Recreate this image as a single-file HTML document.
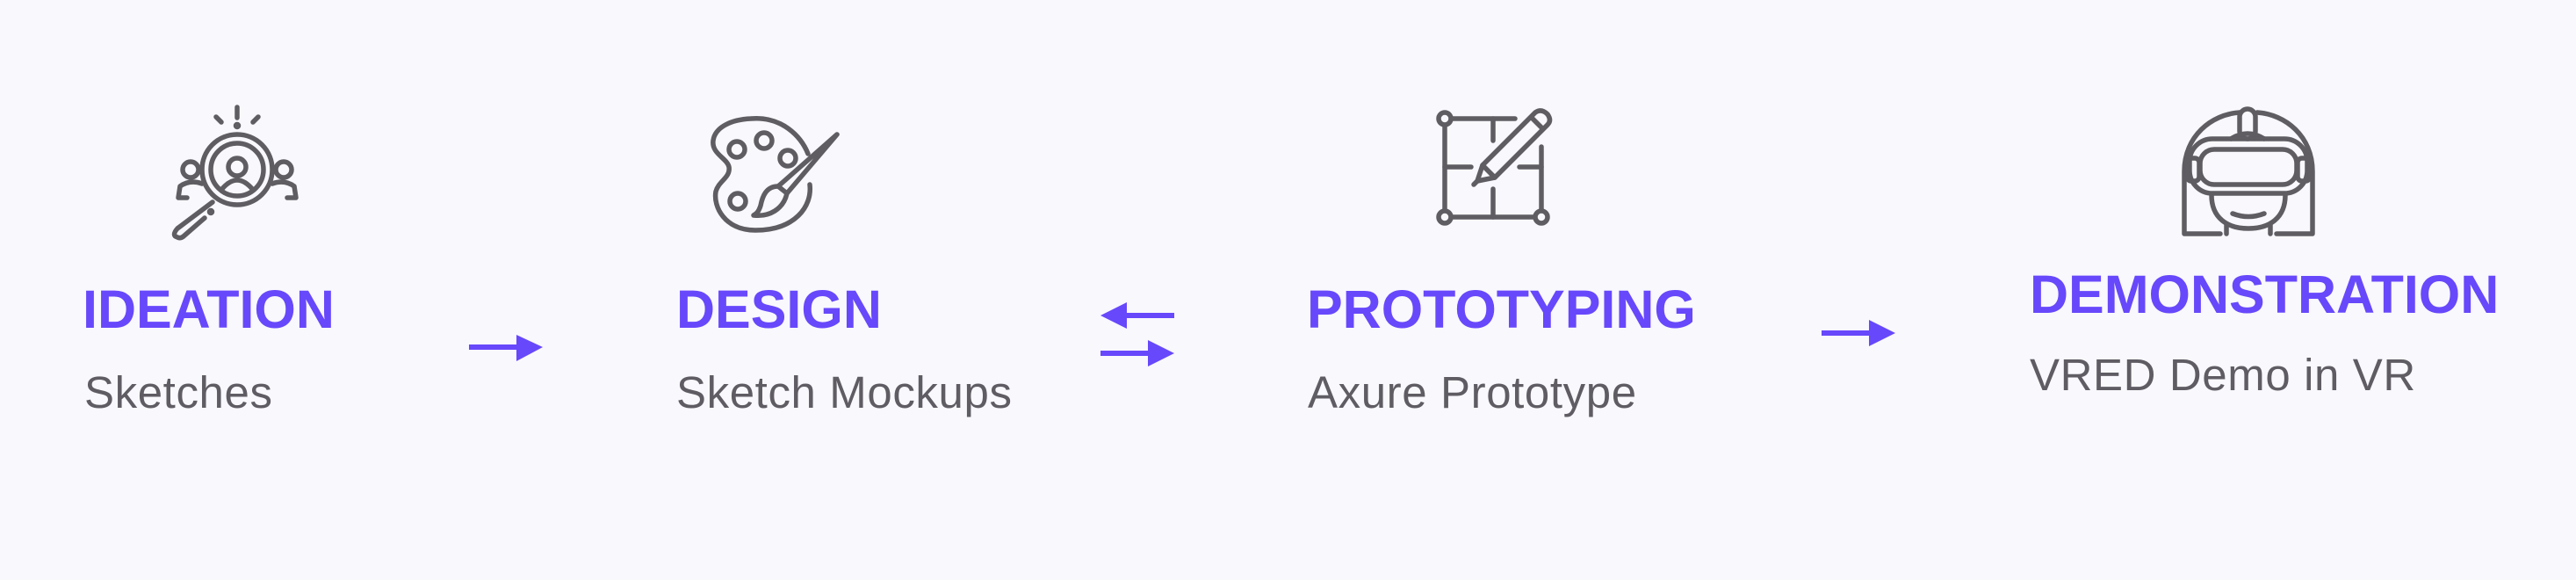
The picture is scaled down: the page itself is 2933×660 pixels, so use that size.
<!DOCTYPE html>
<html><head><meta charset="utf-8"><style>
html,body{margin:0;padding:0;}
body{width:2933px;height:660px;background:#f8f8fd;position:relative;overflow:hidden;font-family:"Liberation Sans",sans-serif;}
.t{position:absolute;color:#6848fb;font-weight:bold;font-size:61px;line-height:1;white-space:nowrap;letter-spacing:0px}
.s{position:absolute;color:#5f5d63;font-size:51px;line-height:1;white-space:nowrap;letter-spacing:0.6px}
svg{position:absolute;overflow:visible}
.ic *{fill:none;stroke:#5f5d62;stroke-width:5.5;stroke-linecap:round;stroke-linejoin:round}
</style></head><body>

<svg class="ic" style="left:180px;top:110px" width="180" height="170" viewBox="0 0 180 170">
<line x1="90" y1="12" x2="90" y2="24"/><circle cx="90" cy="33" r="1.5" style="fill:#5f5d62"/>
<line x1="66" y1="23" x2="72" y2="29"/><line x1="114" y1="23" x2="108" y2="29"/>
<circle cx="90" cy="83" r="40"/><circle cx="90" cy="83" r="30"/>
<circle cx="90" cy="80" r="10"/><path d="M72,106 Q90,84 108,106"/>
<circle cx="37" cy="83" r="9"/><path d="M50,99 Q36,94 25,102 L23,115 L33,115"/>
<circle cx="143" cy="83" r="9"/><path d="M130,99 Q144,94 155,102 L157,115 L147,115"/>
<path d="M62,120 L22,150 Q15,158 22,160 Q26,162 30,158 L53,138"/>
<circle cx="60" cy="131" r="1.5" style="fill:#5f5d62"/>
</svg>

<svg class="ic" style="left:790px;top:120px" width="180" height="160" viewBox="0 0 180 160">
<path d="M65,15 C100,12 122,35 130,55 M132,90 C135,115 115,142 70,142 C35,142 22,115 25,98 C28,86 42,82 40,70 C38,60 20,55 22,40 C24,25 42,16 65,15"/>
<circle cx="49" cy="50" r="9"/><circle cx="80" cy="40" r="9"/><circle cx="107" cy="60" r="9"/><circle cx="50" cy="109" r="9"/>
<path d="M163,33 L106,100 L96,92 Z"/>
<path d="M96,92 C82,92 78,104 76,114 C74,120 72,123 68,125 C86,127 102,118 106,100"/>
</svg>

<svg class="ic" style="left:1620px;top:110px" width="160" height="160" viewBox="0 0 160 160">
<circle cx="25" cy="25" r="7"/><circle cx="25" cy="137" r="7"/><circle cx="135" cy="137" r="7"/>
<line x1="33" y1="25" x2="105" y2="25"/><line x1="25" y1="33" x2="25" y2="129"/>
<line x1="33" y1="137" x2="127" y2="137"/><line x1="135" y1="57" x2="135" y2="129"/>
<line x1="80" y1="25" x2="80" y2="50"/><line x1="80" y1="105" x2="80" y2="137"/>
<line x1="25" y1="80" x2="55" y2="80"/><line x1="110" y1="80" x2="135" y2="80"/>
<path d="M128,18 Q135,13 142,20 Q147,27 142,32 L82,92 L68,78 Z"/><line x1="124" y1="24" x2="136" y2="36"/>
<path d="M68,78 L62,96 L82,92"/><line x1="62" y1="96" x2="58" y2="100"/>
</svg>

<svg class="ic" style="left:2470px;top:110px" width="180" height="170" viewBox="0 0 180 170">
<path d="M58,156 L17,156 L17,85 C17,45 48,20 80,18 M100,18 C132,20 163,45 163,85 L163,156 L122,156"/>
<rect x="80" y="14" width="18" height="34" rx="9"/>
<path d="M70,48 Q89,36 108,48"/>
<rect x="23" y="48" width="134" height="62" rx="26"/>
<rect x="35" y="60" width="110" height="40" rx="16"/>
<rect x="20" y="70" width="14" height="26" rx="5"/><rect x="146" y="70" width="14" height="26" rx="5"/>
<path d="M48,112 C48,138 66,150 90,150 C114,150 132,138 132,112"/>
<path d="M72,133 Q90,140 108,133"/>
<line x1="65" y1="146" x2="65" y2="156"/><line x1="115" y1="146" x2="115" y2="156"/>
</svg>

<svg style="left:0;top:0" width="2933" height="660">
<g fill="#6848fb">
<rect x="534" y="392" width="60" height="6"/><path d="M588,381 L618,395 L588,411 Z"/>
<rect x="1283" y="356" width="54" height="6"/><path d="M1283,344 L1253,359 L1283,374 Z"/>
<rect x="1253" y="399" width="54" height="6"/><path d="M1307,387 L1337,402 L1307,417 Z"/>
<rect x="2074" y="376" width="56" height="6"/><path d="M2128,364 L2158,379 L2128,394 Z"/>
</g></svg>

<div class="t" style="left:94px;top:322px">IDEATION</div>
<div class="s" style="left:96px;top:421px">Sketches</div>
<div class="t" style="left:770px;top:322px">DESIGN</div>
<div class="s" style="left:770px;top:421px">Sketch Mockups</div>
<div class="t" style="left:1488px;top:322px">PROTOTYPING</div>
<div class="s" style="left:1489px;top:421px">Axure Prototype</div>
<div class="t" style="left:2311px;top:305px">DEMONSTRATION</div>
<div class="s" style="left:2311px;top:401px">VRED Demo in VR</div>
</body></html>
